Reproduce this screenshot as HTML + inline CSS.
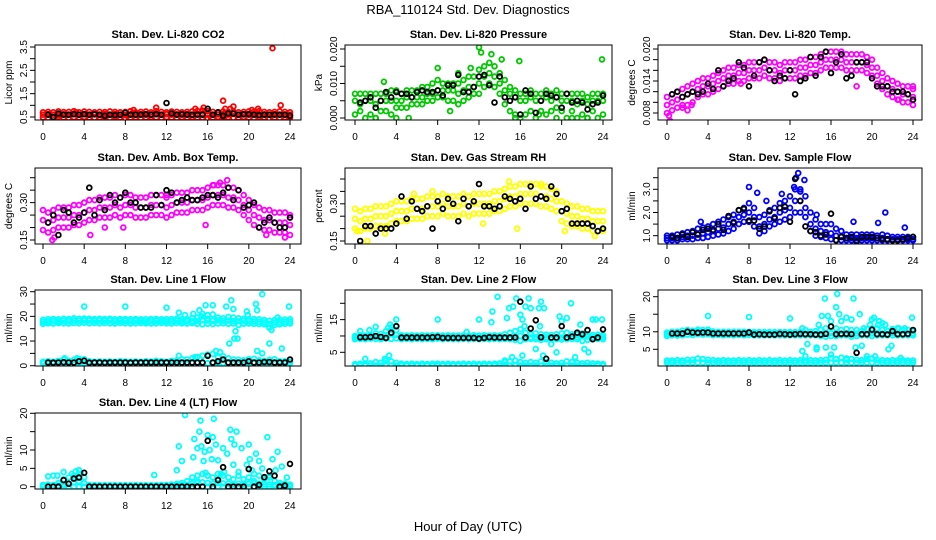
<!DOCTYPE html>
<html><head><meta charset="utf-8"><title>RBA_110124 Std. Dev. Diagnostics</title>
<style>
html,body{margin:0;padding:0;background:#fff;}
svg{display:block;font-family:"Liberation Sans",Arial,sans-serif;}
</style></head>
<body>
<svg id="chart" width="936" height="540" viewBox="0 0 936 540" xmlns="http://www.w3.org/2000/svg">
<rect x="0" y="0" width="936" height="540" fill="#fff"/>
<text x="468" y="14" font-size="13" text-anchor="middle">RBA_110124  Std. Dev. Diagnostics</text>
<text x="468" y="531" font-size="13" text-anchor="middle">Hour of Day (UTC)</text>
</svg>
<script>
const hours=[0,0.5,1,1.5,2,2.5,3,3.5,4,4.5,5,5.5,6,6.5,7,7.5,8,8.5,9,9.5,10,10.5,11,11.5,12,12.5,13,13.5,14,14.5,15,15.5,16,16.5,17,17.5,18,18.5,19,19.5,20,20.5,21,21.5,22,22.5,23,23.5,24];
const xTicks=[0,4,8,12,16,20,24];
const xTickLabels=['0','4','8','12','16','20','24'];

// Panel 1 - CO2
const co2Ticks=[0.5,1,1.5,2,2.5,3,3.5];
const co2TickLabels=['0.5','','1.5','','2.5','','3.5'];
const co2Lo=[0.48,0.47,0.48,0.5,0.48,0.47,0.49,0.48,0.5,0.48,0.47,0.49,0.48,0.47,0.5,0.48,0.45,0.48,0.49,0.47,0.48,0.5,0.48,0.47,0.49,0.48,0.47,0.49,0.48,0.5,0.48,0.47,0.45,0.48,0.5,0.48,0.49,0.47,0.48,0.5,0.48,0.47,0.49,0.48,0.45,0.48,0.47,0.49,0.48];
const co2Mid=[0.6,0.62,0.6,0.58,0.61,0.6,0.63,0.6,0.62,0.6,0.61,0.6,0.62,0.6,0.63,0.6,0.58,0.61,0.6,0.62,0.6,0.61,0.63,0.6,0.62,0.6,0.61,0.6,0.62,0.6,0.63,0.64,0.62,0.6,0.61,0.62,0.6,0.63,0.6,0.61,0.6,0.62,0.6,0.61,0.6,0.62,0.6,0.61,0.6];
const co2Hi=[0.7,0.72,0.7,0.74,0.71,0.72,0.75,0.7,0.73,0.72,0.7,0.72,0.71,0.74,0.72,0.7,0.72,0.75,0.7,0.72,0.73,0.7,0.75,0.72,0.7,0.73,0.72,0.7,0.72,0.74,0.76,0.78,0.75,0.72,0.7,0.74,0.72,0.73,0.7,0.72,0.74,0.72,0.75,0.72,0.7,0.72,0.74,0.72,0.7];
const co2Black=[null,0.6,0.5,0.65,0.6,0.6,0.62,0.6,0.62,0.6,0.62,0.6,0.55,0.6,0.58,0.6,0.68,0.6,0.6,0.6,0.62,0.6,0.62,0.6,1.1,0.65,0.6,0.62,0.6,0.6,0.6,0.6,0.85,0.6,0.7,0.55,0.65,0.65,0.6,0.62,0.62,0.6,0.58,0.6,0.6,0.6,0.6,0.6,0.55];
const co2OutX=[22.3,17.5,11,8.8,18.5,23.1,15.9,21.9,20.9,14.8,15.6,18.2,7.9,3.2,17.7,20.3];
const co2OutY=[3.45,1.2,0.9,0.8,0.95,1.0,0.4,0.42,0.85,0.85,0.9,0.85,0.4,0.7,0.85,0.8];

// Panel 2 - Pressure
const prTicks=[0,0.005,0.01,0.015,0.02];
const prTickLabels=['0.000','','0.010','','0.020'];
const prLo=[0.001,0.002,0.000,0.001,0.000,0.002,0.002,0.001,0.003,0.003,0.003,0.004,0.004,0.004,0.005,0.005,0.006,0.006,0.005,0.005,0.004,0.005,0.006,0.007,0.007,0.009,0.010,0.009,0.007,0.004,0.002,0.001,0.000,0.001,0.002,0.000,0.002,0.001,0.002,0.003,0.002,0.000,0.002,0.000,0.001,0.000,0.002,0.000,0.001];
const prMid=[0.005,0.004,0.005,0.005,0.004,0.005,0.005,0.005,0.005,0.005,0.006,0.006,0.006,0.006,0.007,0.007,0.008,0.008,0.008,0.008,0.007,0.008,0.009,0.009,0.010,0.012,0.013,0.012,0.010,0.008,0.007,0.006,0.005,0.005,0.006,0.005,0.005,0.006,0.005,0.006,0.005,0.005,0.005,0.004,0.005,0.004,0.005,0.005,0.005];
const prHi=[0.007,0.007,0.007,0.007,0.007,0.007,0.007,0.008,0.008,0.007,0.008,0.008,0.008,0.009,0.009,0.010,0.011,0.010,0.010,0.010,0.010,0.011,0.012,0.012,0.014,0.015,0.016,0.015,0.013,0.011,0.009,0.008,0.007,0.007,0.008,0.007,0.007,0.008,0.007,0.008,0.007,0.007,0.007,0.007,0.007,0.006,0.007,0.007,0.007];
const prBlack=[null,0.0045,0.005,0.006,0.003,0.005,0.0075,0.006,0.0075,0.007,0.007,0.006,0.0075,0.008,0.0075,0.0075,0.008,0.0065,0.0095,0.0095,0.0125,0.0075,0.0075,0.009,0.012,0.0125,0.0095,0.0045,0.012,0.006,0.005,0.006,0.001,0.008,0.007,0.0015,0.005,0.007,0.0065,0.006,0.003,0.007,0.0045,0.005,0.0045,0.0025,0.004,0.0045,0.0065];
const prOutX=[12,12.2,13.2,14.2,15.9,23.9,8,10,2.8,4,5.2,11.2,19.5,21,2,9.2,15.5,17.8,22.5];
const prOutY=[0.0205,0.019,0.0185,0.017,0.0165,0.017,0.0145,0.013,0.0105,0,0,0.0145,0,0,0,0.002,0,0.001,0];

// Panel 3 - Li-820 Temp
const tpTicks=[0.008,0.010,0.012,0.014,0.016,0.018,0.020];
const tpTickLabels=['0.008','','','0.014','','','0.020'];
const tpLo=[0.008,0.0085,0.009,0.0095,0.0095,0.010,0.011,0.0115,0.0115,0.012,0.0125,0.013,0.0135,0.0135,0.014,0.014,0.0145,0.0145,0.0145,0.015,0.0145,0.0145,0.014,0.0145,0.0145,0.0145,0.015,0.015,0.0155,0.0155,0.016,0.0165,0.0165,0.0165,0.0165,0.016,0.016,0.016,0.016,0.0155,0.015,0.0135,0.0125,0.0115,0.011,0.0105,0.010,0.010,0.0095];
const tpMid=[0.0095,0.010,0.0105,0.011,0.0115,0.012,0.0125,0.013,0.013,0.0135,0.014,0.0145,0.015,0.015,0.0155,0.0155,0.016,0.016,0.016,0.0165,0.016,0.016,0.0155,0.016,0.016,0.016,0.0165,0.0165,0.017,0.017,0.0175,0.018,0.018,0.018,0.018,0.0175,0.0175,0.0175,0.0175,0.017,0.0165,0.015,0.014,0.013,0.0125,0.012,0.0115,0.0115,0.011];
const tpHi=[0.011,0.0115,0.012,0.0125,0.013,0.0135,0.014,0.0145,0.0145,0.015,0.0155,0.016,0.0165,0.0165,0.017,0.017,0.0175,0.0175,0.0175,0.018,0.0175,0.0175,0.017,0.0175,0.0175,0.0175,0.018,0.018,0.0185,0.0185,0.019,0.0195,0.0195,0.0195,0.0195,0.019,0.019,0.019,0.019,0.0185,0.018,0.0165,0.0155,0.0145,0.014,0.0135,0.013,0.013,0.0125];
const tpBlack=[null,0.0115,0.012,0.011,0.0115,0.012,0.0115,0.012,0.0135,0.0125,0.016,0.013,0.014,0.0145,0.0175,0.0165,0.013,0.015,0.0175,0.018,0.016,0.014,0.015,0.0145,0.016,0.0115,0.014,0.0145,0.0185,0.015,0.0185,0.0195,0.0155,0.0175,0.019,0.0145,0.015,0.0175,0.0175,0.0175,0.0145,0.013,0.013,0.013,0.012,0.012,0.012,0.0115,0.0105];
const tpOutX=[0.3,0.2,2.0,7.2,22.6,24,18.5,1.5,2.4];
const tpOutY=[0.0065,0.0075,0.0085,0.0135,0.0105,0.013,0.013,0.009,0.0095];

// Panel 4 - Amb Box Temp
const abTicks=[0.15,0.20,0.25,0.30,0.35,0.40];
const abTickLabels=['0.15','','','0.30','',''];
const abLo=[0.19,0.18,0.19,0.20,0.20,0.20,0.21,0.21,0.22,0.23,0.23,0.24,0.24,0.24,0.25,0.24,0.25,0.25,0.24,0.24,0.24,0.25,0.25,0.25,0.24,0.25,0.26,0.26,0.26,0.27,0.27,0.27,0.28,0.29,0.29,0.29,0.28,0.28,0.27,0.25,0.23,0.21,0.20,0.19,0.19,0.18,0.18,0.18,0.17];
const abMid=[0.23,0.22,0.23,0.24,0.24,0.24,0.25,0.25,0.26,0.27,0.27,0.28,0.28,0.28,0.29,0.28,0.29,0.29,0.28,0.28,0.28,0.29,0.29,0.29,0.28,0.29,0.30,0.30,0.30,0.31,0.31,0.31,0.32,0.33,0.33,0.33,0.32,0.32,0.31,0.29,0.27,0.25,0.24,0.23,0.23,0.22,0.22,0.22,0.21];
const abHi=[0.27,0.26,0.27,0.28,0.28,0.28,0.29,0.29,0.30,0.31,0.31,0.32,0.32,0.32,0.33,0.32,0.33,0.33,0.32,0.32,0.32,0.33,0.33,0.33,0.32,0.33,0.34,0.34,0.34,0.35,0.35,0.35,0.36,0.37,0.37,0.37,0.36,0.36,0.35,0.33,0.31,0.29,0.28,0.27,0.27,0.26,0.26,0.26,0.25];
const abBlack=[null,0.22,0.25,0.17,0.27,0.26,0.22,0.24,0.26,0.36,0.25,0.31,0.27,0.33,0.30,0.32,0.34,0.30,0.30,0.28,0.28,0.28,0.33,0.29,0.35,0.34,0.30,0.31,0.32,0.31,0.31,0.32,0.33,0.33,0.32,0.34,0.36,0.31,0.35,0.28,0.29,0.30,0.20,0.22,0.24,0.22,0.20,0.20,0.24];
const abOutX=[4.6,15.8,7.8,17.2,17.9,21.7,23.5,1.1,12,6.0,16.6,0.9];
const abOutY=[0.17,0.21,0.20,0.38,0.39,0.17,0.16,0.16,0.33,0.20,0.37,0.15];

// Panel 5 - Gas Stream RH
const rhTicks=[0.15,0.20,0.25,0.30,0.35,0.40];
const rhTickLabels=['0.15','','','0.30','',''];
const rhLo=[0.20,0.19,0.20,0.20,0.21,0.21,0.21,0.22,0.23,0.23,0.23,0.24,0.24,0.24,0.25,0.25,0.25,0.26,0.25,0.25,0.25,0.26,0.25,0.26,0.26,0.26,0.26,0.27,0.27,0.28,0.29,0.29,0.30,0.30,0.30,0.30,0.29,0.29,0.28,0.27,0.23,0.22,0.21,0.21,0.20,0.20,0.19,0.19,0.19];
const rhMid=[0.24,0.23,0.24,0.24,0.25,0.25,0.25,0.26,0.27,0.27,0.27,0.28,0.28,0.28,0.29,0.29,0.29,0.30,0.29,0.29,0.29,0.30,0.29,0.30,0.30,0.30,0.30,0.31,0.31,0.32,0.33,0.33,0.34,0.34,0.34,0.34,0.33,0.33,0.32,0.31,0.27,0.26,0.25,0.25,0.24,0.24,0.23,0.23,0.23];
const rhHi=[0.28,0.27,0.28,0.28,0.29,0.29,0.29,0.30,0.31,0.31,0.31,0.32,0.32,0.32,0.33,0.33,0.33,0.34,0.33,0.33,0.33,0.34,0.33,0.34,0.34,0.34,0.34,0.35,0.35,0.36,0.37,0.37,0.38,0.38,0.38,0.38,0.37,0.37,0.36,0.35,0.31,0.30,0.29,0.29,0.28,0.28,0.27,0.27,0.27];
const rhBlack=[null,0.15,0.21,0.21,0.18,0.20,0.20,0.20,0.22,0.33,0.24,0.31,0.28,0.27,0.29,0.20,0.31,0.28,0.32,0.30,0.23,0.32,0.29,0.31,0.38,0.29,0.29,0.28,0.29,0.33,0.32,0.31,0.32,0.28,0.37,0.32,0.33,0.32,0.37,0.34,0.27,0.28,0.22,0.22,0.22,0.22,0.21,0.19,0.20];
const rhOutX=[0.2,1.2,2.9,7.5,12.4,15.7,23.2,5.7,20.3,18,14.9];
const rhOutY=[0.19,0.15,0.18,0.35,0.22,0.20,0.17,0.34,0.19,0.38,0.39];

// Panel 6 - Sample Flow
const sfTicks=[1.0,1.5,2.0,2.5,3.0,3.5];
const sfTickLabels=['1.0','','2.0','','3.0',''];
const sfLo=[0.8,0.8,0.8,0.85,0.85,0.85,0.9,0.9,0.95,1.0,1.05,1.1,1.2,1.3,1.5,1.6,1.6,1.4,1.1,1.2,1.4,1.5,1.6,1.7,1.8,2.0,2.0,1.8,1.2,1.0,0.95,0.9,0.85,0.8,0.8,0.8,0.8,0.8,0.8,0.8,0.8,0.8,0.8,0.8,0.8,0.8,0.8,0.8,0.8];
const sfMid=[0.9,0.9,0.9,0.95,1.0,1.0,1.05,1.1,1.15,1.2,1.3,1.35,1.5,1.6,1.8,1.9,2.0,1.8,1.4,1.5,1.7,1.8,2.0,2.1,2.2,2.5,2.5,2.2,1.5,1.3,1.2,1.15,1.1,1.0,0.95,0.9,0.9,0.9,0.9,0.9,0.9,0.9,0.9,0.85,0.85,0.85,0.85,0.85,0.85];
const sfHi=[1.0,1.0,1.05,1.1,1.15,1.2,1.3,1.35,1.4,1.5,1.6,1.7,1.8,1.9,2.1,2.2,2.4,2.2,1.8,1.9,2.1,2.2,2.4,2.5,2.7,3.0,3.0,2.7,2.0,1.7,1.5,1.5,1.5,1.3,1.2,1.05,1.05,1.05,1.05,1.05,1.05,1.0,1.05,1.0,0.95,0.95,0.95,0.95,0.95];
const sfBlack=[null,0.95,0.9,1.05,0.95,1.15,1.05,1.25,1.3,1.25,1.5,1.25,1.85,1.55,2.1,2.15,1.65,1.65,1.3,1.4,2.05,1.75,2.2,2.25,1.6,3.45,2.5,1.4,1.2,1.15,1.0,1.05,1.95,0.8,0.95,0.9,0.95,0.75,0.95,0.95,0.95,0.9,0.85,0.85,0.8,0.8,0.85,0.9,0.95];
const sfOutX=[8,8.8,12.6,12.8,13.4,12.4,21.3,23.2,20.6,3.3,18.2,9.7,14.6,11.2,13.0];
const sfOutY=[3.1,2.85,3.5,3.7,3.4,3.1,2.0,1.35,1.55,1.6,1.6,2.5,1.9,2.8,2.9];

// Panel 7 - Line 1 Flow
const l1Ticks=[0,5,10,15,20,25,30];
const l1TickLabels=['0','','10','','20','','30'];
const l1UpLo=[17,17.2,17.1,17.3,17.2,17.1,17.3,17.2,17.4,17.2,17.3,17.2,17.3,17.2,17.1,17.3,17.2,17.1,17.2,17.3,17.2,17.1,17.2,17.3,17.2,17.1,17.3,17.2,17.1,17.3,17.0,16.8,17.0,16.9,17.1,17.2,17.0,17.1,16.5,17.0,17.1,17.0,16.9,16.8,15.5,16.5,16.8,17.0,17.1];
const l1UpMid=[17.8,18,18.1,18,18.2,18.1,18.3,18.2,18.4,18.3,18.2,18.3,18.2,18.3,18.1,18.2,18.2,18.1,18.2,18.1,18,18.1,18.2,18.1,18,18.1,18.2,18,18.1,18,18.2,18.5,18.3,18.2,18.4,18.2,18.3,18.1,18,18.2,18,17.9,17.8,17.6,17,17.5,17.6,17.8,17.9];
const l1UpHi=[18.6,18.8,18.9,18.8,19,18.9,19.2,19,19.1,19,18.9,19,18.9,19,18.8,18.9,18.9,18.8,18.9,18.8,18.8,18.9,18.9,18.8,18.8,18.9,19,18.8,18.9,19.2,19.5,21,20.5,20.8,19.5,19.2,19.8,19.5,19.2,19,18.8,18.9,18.8,18.5,18.2,18.5,18.6,18.7,18.8];
const l1LowLo=[1.0,0.9,1.0,1.0,1.1,1.0,1.0,1.0,1.1,1.0,1.0,1.0,1.0,0.9,1.0,1.0,1.0,1.0,1.0,1.0,1.1,1.0,1.0,1.0,1.0,1.0,1.0,1.0,1.0,1.0,1.0,1.0,1.0,1.0,1.0,1.1,1.0,1.0,1.0,1.0,1.0,1.0,1.0,1.0,1.0,1.0,1.0,1.0,1.0];
const l1LowHi=[1.6,1.8,1.6,2.0,2.5,2.0,2.4,2.8,2.6,1.8,1.6,1.7,1.6,1.7,1.6,1.8,1.7,1.6,1.7,1.6,1.8,1.7,2.0,1.8,1.6,2.0,2.2,2.6,2.5,3.0,3.5,4.0,4.5,4.8,3.5,3.8,3.0,2.5,2.4,2.2,2.6,2.8,2.2,2.0,2.4,2.6,1.8,1.8,1.6];
const l1Black=[null,1.3,1.2,1.3,1.4,1.3,1.3,1.8,2.0,1.2,1.3,1.3,1.2,1.3,1.3,1.3,1.3,1.2,1.3,1.3,1.3,1.3,1.3,1.3,1.3,1.3,1.3,1.3,1.3,1.3,1.3,1.3,4.0,1.3,1.8,2.5,1.3,1.3,1.3,1.3,1.8,1.3,1.3,1.5,1.5,1.3,1.3,1.3,2.5];
const l1OutX=[4,8,12,13.2,13.8,14.6,15.2,15.8,16.5,17.8,18.3,18.5,18.7,18.9,18.1,18.6,19.8,20.7,20.8,21.3,22,22.2,22.8,23.2,23.9,20.8,21.3,16.8,15.5,14.8,13.2,3.3,2.1,17.2,19.9,16,15.4];
const l1OutY=[24,24,23.5,21.5,20.5,21,22.5,24.5,24.5,24,26.5,23,14,11,9,11,22,25,22.5,29,9,14.5,19.5,7,24,6,5,6,4,3.5,4,3,3,5.5,20.5,19,20];

// Panel 8 - Line 2 Flow
const l2Ticks=[5,10,15,20];
const l2TickLabels=['5','','15',''];
const l2UpLo=[9,9.1,9,9.2,9.1,9,9.2,9.1,9.3,9,9.1,9,9.1,9,9.1,9,9.2,9,9.1,9,9,9.1,9,9.1,9,9.1,9,9.1,9,9.1,9,8.8,8.5,9,9.1,9,8.8,9,9.1,9,8.9,9,9.1,9,8.5,8.8,9,9.1,9];
const l2UpMid=[9.5,9.6,9.5,9.7,9.8,9.6,10.2,10.5,10.3,9.6,9.5,9.6,9.5,9.6,9.5,9.6,9.6,9.5,9.6,9.5,9.5,9.6,9.5,9.6,9.5,9.6,9.5,9.6,9.5,9.6,9.5,9.8,10,9.6,9.5,9.6,9.5,9.6,9.5,9.6,9.5,9.6,9.7,9.6,10,9.8,9.6,9.7,9.6];
const l2UpHi=[10,10.2,10.1,10.3,10.8,10.6,11.5,12,11.8,10.2,10.1,10.2,10.1,10.2,10.1,10.2,10.2,10.1,10.2,10.1,10.1,10.2,10.1,10.2,10.1,10.2,10.1,10.2,10.1,10.5,11,11.5,12,11,10.5,10.8,10.5,10.4,10.3,10.5,10.8,11,10.5,10.4,10.8,10.5,10.3,10.4,10.2];
const l2LowLo=[0.9,0.9,0.9,0.9,0.9,0.9,0.9,0.9,0.9,0.9,0.9,0.9,0.9,0.9,0.9,0.9,0.9,0.9,0.9,0.9,0.9,0.9,0.9,0.9,0.9,0.9,0.9,0.9,0.9,0.9,0.9,0.9,0.9,0.9,0.9,0.9,0.9,0.9,0.9,0.9,0.9,0.9,0.9,0.9,0.9,0.9,0.9,0.9,0.9];
const l2LowHi=[1.4,1.5,1.4,1.6,2.0,1.8,2.5,2.2,1.8,1.5,1.4,1.5,1.4,1.5,1.4,1.5,1.5,1.4,1.5,1.4,1.4,1.5,1.4,1.5,1.4,1.5,1.4,1.5,1.6,2.0,2.2,2.5,2.0,1.8,2.0,1.8,2.2,2.0,1.8,1.6,1.8,2.2,2.0,1.8,1.6,1.8,1.6,1.5,1.4];
const l2Black=[null,9.6,9.6,9.7,10,9.7,9.4,11,13,9.5,9.5,9.5,9.5,9.5,9.5,9.6,9.7,9.4,9.4,9.4,9.4,9.4,9.4,9.4,9.2,9.4,9.6,9.5,9.5,9.5,9.5,9.5,20.5,9.5,12.3,14.8,9.6,3,9.5,9.5,13,9.5,9.8,11,10.5,11.8,9,9.5,12];
const l2OutX=[0.5,1.4,2,3.2,3.4,3.6,4,3.3,2.9,1,8,10.8,12,13.2,13.3,13.8,14.7,14.9,15.3,15.6,16,16.2,16.4,16.5,16.8,17,17.5,17.8,18,18.3,18.2,19,19.5,19.8,20,20.5,20.9,21.3,21.8,22.2,22.6,23,23.3,23.9,16.2,15.2,14.5,17.9];
const l2OutY=[11.5,11.8,12.8,12.5,13.5,12.8,15,4,3,3,15,11.2,15,14.2,17.5,22,15.5,18.5,19,21.5,16.5,15,13,19,21.5,18.5,6,18.5,20.5,18.5,4,7.5,5,16,14.5,15.5,20,3.5,13.5,6,5,15,15,15,4,3.5,2.5,13];

// Panel 9 - Line 3 Flow
const l3Ticks=[5,10,15,20];
const l3TickLabels=['5','10','','20'];
const l3UpLo=[8.8,9,8.9,9,9.2,9.1,9.3,9.2,9.3,9,9.1,9,9.1,9,9.1,9,9.1,9,9,9,9,9,9,9,9,9,9,9,9,9,8.8,8.6,8.8,8.8,9,9,8.6,8.8,9,9,8.8,9,9,9,9,9,9,9,9];
const l3UpMid=[9.3,9.5,9.4,9.6,9.9,9.7,10,9.9,10,9.6,9.5,9.5,9.5,9.5,9.5,9.5,9.5,9.4,9.4,9.4,9.4,9.4,9.4,9.4,9.4,9.4,9.4,9.5,9.4,9.4,9.4,9.5,9.6,9.4,9.5,9.6,9.5,9.5,9.4,9.4,9.5,9.5,9.5,9.4,9.6,9.5,9.4,9.5,9.5];
const l3UpHi=[9.8,10,10,10.3,10.5,10.3,10.6,10.5,10.6,10.1,10,10,10,10,10,10,10,9.9,9.9,9.9,9.9,9.9,9.9,9.9,9.9,9.9,10,10.5,10,10.2,10.5,11,11.5,11,10.5,10.8,10.5,10.5,10.2,10.8,11,11,10.5,10.2,10.8,11,10.5,10.5,10.2];
const l3LowLo=[1.2,1.2,1.2,1.2,1.2,1.2,1.2,1.2,1.2,1.2,1.2,1.2,1.2,1.2,1.2,1.2,1.2,1.2,1.2,1.2,1.2,1.2,1.2,1.2,1.2,1.2,1.2,1.2,1.2,1.2,1.2,1.2,1.2,1.2,1.2,1.2,1.2,1.2,1.2,1.2,1.2,1.2,1.2,1.2,1.2,1.2,1.2,1.2,1.2];
const l3LowHi=[1.8,1.8,1.9,1.8,2.0,2.0,2.4,2.2,2.0,1.9,1.8,1.9,1.8,1.8,1.9,1.8,1.9,1.8,1.9,1.8,1.9,1.8,1.9,1.8,1.9,1.8,1.9,1.8,1.9,1.8,1.9,2.0,2.5,2.2,2.6,2.4,2.2,2.0,1.9,2.2,2.4,2.0,1.9,1.8,1.9,1.8,1.9,1.8,1.8];
const l3Black=[null,9.5,9.5,9.5,10,9.8,9.7,9.8,9.8,9.5,9.5,9.5,9.5,9.5,9.5,9.5,9.8,9.2,9.3,9.2,9.2,9.2,9.4,9.3,9.2,9.3,9.4,9.3,9.3,9.2,9.2,9.4,11.5,9.3,9.4,9.4,9.3,4,9.3,9.3,10.6,9.3,9.3,9.2,10.2,9.3,9.3,9.4,10.5];
const l3OutX=[4,8,12,13.2,13.2,13.5,13.7,14.6,14.8,15.1,15.4,15.5,15.7,16,16.3,16.5,16.6,16.8,17,17.5,18,18.2,18.4,18.8,19,19.2,20,20.2,20.3,20.6,21,21.3,21.6,21.9,22.6,22.8,23.2,23.9,19.5,17.5,16,14.6,19.8,20.7];
const l3OutY=[14.5,14.2,13.8,4.5,11,3,6.5,5,12,14.5,19.5,5.5,14.5,13,5.5,17,20.8,15,13,14,13.5,19.5,5.5,15,6,11,13.5,14,3,12,12.5,12,5,6,11,2.5,11,14,3,2,3.5,5.5,12,13];

// Panel 10 - Line 4 (LT) Flow
const l4Ticks=[0,5,10,15,20];
const l4TickLabels=['0','5','10','','20'];
const l4BandLo=[0,0,0,0,0,0,0,0,0,0,0,0,0,0,0,0,0,0,0,0,0,0,0,0,0,0,0,0,0,0,0,0,0,0,0,0,0,0,0,0,0,0,0,0,0,0,0,0,0];
const l4BandMid=[0.2,0.2,0.2,0.3,0.5,0.8,1.2,1.5,1.0,0.2,0.2,0.2,0.2,0.2,0.2,0.2,0.2,0.2,0.2,0.2,0.2,0.2,0.2,0.2,0.2,0.3,0.3,0.4,0.5,0.8,1.0,1.2,1.0,0.8,1.0,0.9,0.8,0.6,0.8,0.6,0.8,1.0,0.8,0.6,0.6,0.5,0.4,0.3,0.3];
const l4BandHi=[0.5,0.6,0.5,1.0,2.0,2.5,3.0,3.5,2.5,0.5,0.4,0.4,0.4,0.4,0.4,0.4,0.4,0.4,0.4,0.4,0.4,0.4,0.4,0.5,0.5,0.6,0.8,1.0,1.5,2.5,3.0,3.5,3.0,2.5,3.5,3.0,2.5,2.0,3.0,2.0,2.5,3.5,3.0,2.0,2.5,1.5,1.0,0.8,0.6];
const l4Black=[null,0,0,0,1.8,0.8,2.2,2.5,3.8,0,0,0,0,0,0,0,0,0,0,0,0,0,0,0,0,0,0,0,0,0,0,0,12.5,0,1.8,5.3,0,0,0,0,4.8,0,0.5,2.6,4.2,3,0,0.3,6.2];
const l4OutX=[0.5,1,1.4,2,2.8,3.2,3.5,3.7,10.8,13,13.2,13.5,13.8,14.6,14.7,15,15.2,15.3,15.4,15.6,15.7,16,16.2,16.4,16.5,16.6,16.8,17,17.3,17.5,17.9,18.2,18.3,18.5,18.6,18.8,19,19.3,19.8,20,20.1,20.3,20.7,21,21.3,21.8,22,22.3,22.6,22.8,23.2,23.7,16,15,17.6,19.5,20.5,14.5,21.5,15.8];
const l4OutY=[2.8,3,3,4,3.5,4.2,4.5,3.5,3.2,4.5,11,7,19.5,8,13,10.5,15,18,11,7,9.5,14,10,7.5,13.5,18.5,11.5,7.2,3.5,10.5,9,15.5,13,6,11.5,15,4,10.5,6,11.5,7.5,4.5,9,7,5,13.5,3,7.5,4.5,9.5,5.5,2.5,3,1.5,4,2,1.5,0.8,2.5,3.8];

const cols=[{l:35,r:301,x0:43,x24:290},{l:345,r:612,x0:355,x24:603},{l:658,r:922,x0:667,x24:913}];
const rows=[{t:45,b:120},{t:168,b:244},{t:290,b:366},{t:413,b:489}];

const panels=[
 {id:'co2',c:0,r:0,title:'Stan. Dev. Li-820 CO2',ylab:'Licor ppm',v0:0.5,p0:117,v1:3.5,p1:47,ticks:co2Ticks,tl:co2TickLabels,color:'#ff0000',series:[co2Lo,co2Mid,co2Hi],black:co2Black,ox:co2OutX,oy:co2OutY},
 {id:'pressure',c:1,r:0,title:'Stan. Dev. Li-820 Pressure',ylab:'kPa',v0:0,p0:118,v1:0.02,p1:49,ticks:prTicks,tl:prTickLabels,color:'#00c800',series:[prLo,prMid,prHi],black:prBlack,ox:prOutX,oy:prOutY},
 {id:'li-temp',c:2,r:0,title:'Stan. Dev. Li-820 Temp.',ylab:'degrees C',v0:0.008,p0:113,v1:0.020,p1:49,ticks:tpTicks,tl:tpTickLabels,color:'#ff00ff',series:[tpLo,tpMid,tpHi],black:tpBlack,ox:tpOutX,oy:tpOutY},
 {id:'amb-box-temp',c:0,r:1,title:'Stan. Dev. Amb. Box Temp.',ylab:'degrees C',v0:0.15,p0:240,v1:0.40,p1:177.7,ticks:abTicks,tl:abTickLabels,color:'#ff00ff',series:[abLo,abMid,abHi],black:abBlack,ox:abOutX,oy:abOutY},
 {id:'gas-rh',c:1,r:1,title:'Stan. Dev. Gas Stream RH',ylab:'percent',v0:0.15,p0:241,v1:0.40,p1:179,ticks:rhTicks,tl:rhTickLabels,color:'#ffff00',series:[rhLo,rhMid,rhHi],black:rhBlack,ox:rhOutX,oy:rhOutY},
 {id:'sample-flow',c:2,r:1,title:'Stan. Dev. Sample Flow',ylab:'ml/min',v0:1.0,p0:235.7,v1:3.0,p1:189.3,ticks:sfTicks,tl:sfTickLabels,color:'#0000ff',series:[sfLo,sfMid,sfHi],black:sfBlack,ox:sfOutX,oy:sfOutY},
 {id:'line1-flow',c:0,r:2,title:'Stan. Dev. Line 1 Flow',ylab:'ml/min',v0:0,p0:365.7,v1:30,p1:291.7,ticks:l1Ticks,tl:l1TickLabels,color:'#00ffff',series:[l1UpLo,l1UpMid,l1UpHi,l1LowLo,l1LowHi],black:l1Black,ox:l1OutX,oy:l1OutY},
 {id:'line2-flow',c:1,r:2,title:'Stan. Dev. Line 2 Flow',ylab:'ml/min',v0:5,p0:352.3,v1:20,p1:303.3,ticks:l2Ticks,tl:l2TickLabels,color:'#00ffff',series:[l2UpLo,l2UpMid,l2UpHi,l2LowLo,l2LowHi],black:l2Black,ox:l2OutX,oy:l2OutY},
 {id:'line3-flow',c:2,r:2,title:'Stan. Dev. Line 3 Flow',ylab:'ml/min',v0:5,p0:349.3,v1:20,p1:296.7,ticks:l3Ticks,tl:l3TickLabels,color:'#00ffff',series:[l3UpLo,l3UpMid,l3UpHi,l3LowLo,l3LowHi],black:l3Black,ox:l3OutX,oy:l3OutY},
 {id:'line4-flow',c:0,r:3,title:'Stan. Dev. Line 4 (LT) Flow',ylab:'ml/min',v0:0,p0:486.7,v1:20,p1:413.3,ticks:l4Ticks,tl:l4TickLabels,color:'#00ffff',series:[l4BandLo,l4BandMid,l4BandHi],black:l4Black,ox:l4OutX,oy:l4OutY}
];

const NS='http://www.w3.org/2000/svg';
const svg=document.getElementById('chart');
const defs=document.createElementNS(NS,'defs');
svg.appendChild(defs);
function mk(tag,attrs,parent){const e=document.createElementNS(NS,tag);for(const k in attrs)e.setAttribute(k,attrs[k]);parent.appendChild(e);return e;}

panels.forEach(function(p){
  const C=cols[p.c],R=rows[p.r];
  const xs=function(h){return C.x0+(h/24)*(C.x24-C.x0);};
  const ys=function(v){return p.p0+(v-p.v0)*(p.p1-p.p0)/(p.v1-p.v0);};
  const g=mk('g',{},svg);
  
  
  const cp=mk('clipPath',{id:'clip-'+p.id},defs);
  mk('rect',{x:C.l,y:R.t,width:C.r-C.l,height:R.b-R.t},cp);
  const pts=mk('g',{'clip-path':'url(#clip-'+p.id+')'},g);
  
  
  function dot(x,y,col,name){
    const c=mk('circle',{cx:x.toFixed(1),cy:y.toFixed(1),r:2.4,fill:'none',stroke:col,'stroke-width':1.8},pts);
    
    
  }
  p.series.forEach(function(arr){
    arr.forEach(function(v,i){if(v!==null)dot(xs(hours[i]),ys(v),p.color,'data-point');});
  });
  p.ox.forEach(function(x,i){dot(xs(x),ys(p.oy[i]),p.color,'outlier-point');});
  p.black.forEach(function(v,i){if(v!==null)dot(xs(hours[i]),ys(v),'#000','hourly-point');});
  const box=mk('rect',{x:C.l,y:R.t,width:C.r-C.l,height:R.b-R.t,fill:'none',stroke:'#000','stroke-width':1},g);
  
  
  const t=mk('text',{x:(C.l+C.r)/2,y:R.t-7,'font-size':11,'font-weight':'bold','text-anchor':'middle'},g);
  t.textContent=p.title;
  
  
  xTicks.forEach(function(h,i){
    const x=xs(h);
    const tk=mk('line',{x1:x,y1:R.b,x2:x,y2:R.b+5,stroke:'#000','stroke-width':1},g);
    
    
    const lb=mk('text',{x:x,y:R.b+20,'font-size':10,'text-anchor':'middle'},g);
    lb.textContent=xTickLabels[i];
    
    
  });
  const ax=mk('line',{x1:xs(0),y1:R.b,x2:xs(24),y2:R.b,stroke:'#000','stroke-width':1},g);
  
  
  const yl=mk('line',{x1:C.l,y1:ys(p.ticks[0]),x2:C.l,y2:ys(p.ticks[p.ticks.length-1]),stroke:'#000','stroke-width':1},g);
  
  
  p.ticks.forEach(function(v,i){
    const y=ys(v);
    const tk=mk('line',{x1:C.l-5,y1:y,x2:C.l,y2:y,stroke:'#000','stroke-width':1},g);
    
    
    if(p.tl[i]){
      const lb=mk('text',{x:C.l-8,y:y,'font-size':10,'text-anchor':'middle',transform:'rotate(-90 '+(C.l-8)+' '+y+')'},g);
      lb.textContent=p.tl[i];
      
      
    }
  });
  const cy=(R.t+R.b)/2, lx=C.l-23;
  const yt=mk('text',{x:lx,y:cy,'font-size':10,'text-anchor':'middle',transform:'rotate(-90 '+lx+' '+cy+')'},g);
  yt.textContent=p.ylab;
  
  
});
</script>
</body></html>
